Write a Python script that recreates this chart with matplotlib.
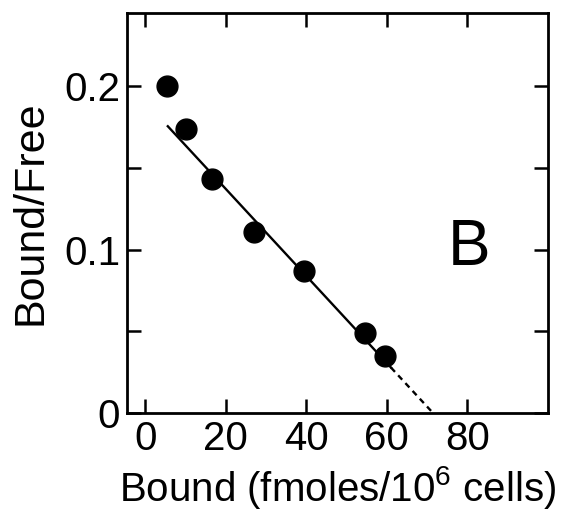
import matplotlib
matplotlib.use("Agg")
import matplotlib.pyplot as plt
import numpy as np

# Scatchard plot data
bound = [5.5, 10.0, 16.5, 27.0, 39.5, 54.5, 59.5]
bound_free = [0.200, 0.174, 0.143, 0.111, 0.087, 0.049, 0.035]

# linear fit: solid over the data, dashed extrapolation to the x intercept
fit_intercept = 0.1905
fit_slope = -0.002665
fit_solid_x = [5.6, 61.0]
fit_dashed_x = [61.0, 71.5]

x_ticks = [0, 20, 40, 60, 80]
y_ticks = [0, 0.1, 0.2]
y_tick_labels = ["0", "0.1", "0.2"]
y_minor = [0.05, 0.15]

plt.rcParams['font.family'] = ['Liberation Sans', 'DejaVu Sans']
plt.rcParams['mathtext.default'] = 'regular'

fig = plt.figure(figsize=(5.65, 5.12), dpi=100)
ax = fig.add_axes([0.225, 0.193, 0.745, 0.782])

# fit line
xs = np.array(fit_solid_x)
ax.plot(xs, fit_intercept + fit_slope * xs, color='black', lw=1.7)
xd = np.array(fit_dashed_x)
ax.plot(xd, fit_intercept + fit_slope * xd, color='black', lw=1.7,
        linestyle=(0, (2.5, 2)))

# data points
ax.plot(bound, bound_free, 'o', color='black', markersize=15, zorder=3)

ax.set_xlim(-4.5, 100)
ax.set_ylim(0, 0.245)

ax.set_xticks(x_ticks)
ax.set_yticks(y_ticks)
ax.set_yticklabels(y_tick_labels)
ax.set_yticks(y_minor, minor=True)

ax.tick_params(which='both', direction='in', top=True, right=True,
               length=10, width=1.8, labelsize=29, pad=5)
for s in ax.spines.values():
    s.set_linewidth(2.0)

ax.set_xlabel('Bound (fmoles/10$^6$ cells)', fontsize=29, labelpad=4)
ax.set_ylabel('Bound/Free', fontsize=31, labelpad=10)

# panel letter
ax.text(80.5, 0.101, 'B', fontsize=46, ha='center', va='center')

fig.savefig('out.png', dpi=100)
